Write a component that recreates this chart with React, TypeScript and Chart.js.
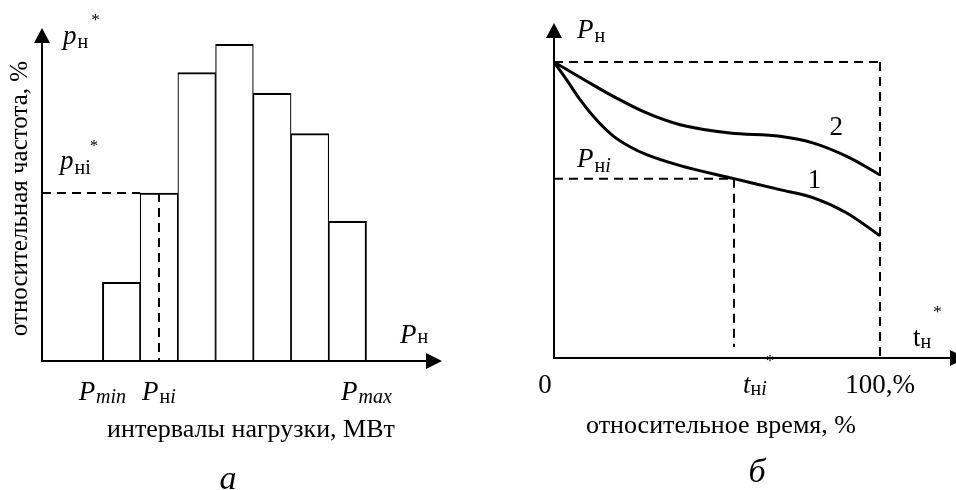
import React, { useEffect, useRef } from "react";
import { Chart, registerables } from "chart.js";
Chart.register(...registerables);

const SERIF = "'Liberation Serif', 'Times New Roman', serif";

// ---------- Panel a: histogram of load intervals ----------
const intervalCenters = [2, 3, 4, 5, 6, 7, 8];
const relFrequency = [5.3, 11.3, 19.4, 21.3, 18.0, 15.3, 9.4];
const pMinEdge = 1.5;
const pMaxEdge = 8.5;
const pNiX = 3;
const pNiFreq = 11.3;
const pNiBarLeft = 2.5;
const aXMin = -0.1;
const aXMax = 10.5;
const aYMax = 22.4;

// ---------- Panel b: load duration curves ----------
const timeCurve1 = [0, 4, 8, 13, 18.2, 23.3, 28.4, 38.7, 55.2, 69.3, 79.6, 89.8, 100];
const loadCurve1 = [100, 93.8, 87.3, 80.5, 75.0, 71.4, 68.7, 65.0, 60.6, 56.9, 54.1, 49.0, 41.3];
const timeCurve2 = [0, 9, 18.2, 28.4, 38.7, 54, 69.3, 79.6, 89.8, 100];
const loadCurve2 = [100, 94.2, 88.4, 82.8, 78.8, 76.0, 74.9, 72.6, 68.1, 61.9];
const pMaxLoad = 100;
const fullTime = 100;
const pNiLoad = 60.6;
const tNiTime = 55.2;
const tNiDashEnd = 3.7;
const bXMax = 123.3;
const bYMax = 113.2;

const F_MAIN_I = `italic 27px ${SERIF}`;
const F_MAIN = `27px ${SERIF}`;
const F_SUB = `20px ${SERIF}`;
const F_SUB_I = `italic 20px ${SERIF}`;
const F_STAR = `17px ${SERIF}`;
const F_TEXT = `26px ${SERIF}`;
const F_ROT = `25px ${SERIF}`;
const F_PANEL = `italic 34px ${SERIF}`;

type Part = { t: string; font: string; dy?: number; dx?: number };

function partsWidth(ctx: CanvasRenderingContext2D, parts: Part[]) {
  let w = 0;
  for (const p of parts) {
    ctx.font = p.font;
    w += ctx.measureText(p.t).width + (p.dx || 0);
  }
  return w;
}

function drawParts(ctx: CanvasRenderingContext2D, x: number, y: number, parts: Part[], align: "left" | "center" = "left") {
  let cx = align === "center" ? x - partsWidth(ctx, parts) / 2 : x;
  ctx.textAlign = "left";
  ctx.textBaseline = "alphabetic";
  for (const p of parts) {
    ctx.font = p.font;
    cx += p.dx || 0;
    ctx.fillText(p.t, cx, y + (p.dy || 0));
    cx += ctx.measureText(p.t).width;
  }
}

function arrowUp(ctx: CanvasRenderingContext2D, x: number, tip: number) {
  ctx.beginPath();
  ctx.moveTo(x, tip);
  ctx.lineTo(x - 8, tip + 15);
  ctx.lineTo(x + 8, tip + 15);
  ctx.closePath();
  ctx.fill();
}
function arrowRight(ctx: CanvasRenderingContext2D, tip: number, y: number) {
  ctx.beginPath();
  ctx.moveTo(tip, y);
  ctx.lineTo(tip - 16, y - 8);
  ctx.lineTo(tip - 16, y + 8);
  ctx.closePath();
  ctx.fill();
}

const panelAPlugin = {
  id: "panelA",
  afterDraw(chart: any) {
    const { ctx, chartArea: ca, scales } = chart;
    const xs = scales.x;
    const ys = scales.y;
    ctx.save();
    ctx.strokeStyle = "#000";
    ctx.fillStyle = "#000";
    ctx.lineWidth = 2;
    const ox = ca.left;
    const oy = ys.getPixelForValue(0);
    ctx.beginPath();
    ctx.moveTo(ox, oy + 1);
    ctx.lineTo(ox, ca.top + 12);
    ctx.moveTo(ox - 1, oy);
    ctx.lineTo(ca.right - 12, oy);
    ctx.stroke();
    arrowUp(ctx, ox, ca.top);
    arrowRight(ctx, ca.right, oy);

    drawParts(ctx, ox + 21, ca.top + 16, [
      { t: "p", font: F_MAIN_I },
      { t: "н", font: F_SUB, dy: 4, dx: 1 },
      { t: "*", font: F_STAR, dy: -19, dx: 3 },
    ]);
    const pny = ys.getPixelForValue(pNiFreq);
    drawParts(ctx, ox + 18, pny - 24, [
      { t: "p", font: F_MAIN_I },
      { t: "нi", font: F_SUB, dy: 5, dx: 1 },
      { t: "*", font: F_STAR, dy: -18, dx: -1 },
    ]);
    drawParts(ctx, ca.right - 42, oy - 18, [
      { t: "P", font: F_MAIN_I },
      { t: "н", font: F_SUB, dy: 0, dx: 1 },
    ]);
    const tickY = oy + 39;
    drawParts(ctx, xs.getPixelForValue(pMinEdge), tickY, [
      { t: "P", font: F_MAIN_I },
      { t: "min", font: F_SUB_I, dy: 3, dx: 1 },
    ], "center");
    drawParts(ctx, xs.getPixelForValue(pNiX), tickY, [
      { t: "P", font: F_MAIN_I },
      { t: "н", font: F_SUB, dy: 3, dx: 1 },
      { t: "i", font: F_SUB_I, dy: 3 },
    ], "center");
    drawParts(ctx, xs.getPixelForValue(pMaxEdge), tickY, [
      { t: "P", font: F_MAIN_I },
      { t: "max", font: F_SUB_I, dy: 3, dx: 1 },
    ], "center");

    ctx.font = F_TEXT;
    ctx.textAlign = "center";
    ctx.fillText("интервалы нагрузки, МВт", 251, oy + 76);
    ctx.font = F_PANEL;
    ctx.fillText("а", 228, oy + 128);

    ctx.translate(27, (ca.top + oy) / 2 + 4);
    ctx.rotate(-Math.PI / 2);
    ctx.font = F_ROT;
    ctx.textAlign = "center";
    ctx.fillText("относительная частота, %", 0, 0);
    ctx.restore();
  },
};

const panelBPlugin = {
  id: "panelB",
  afterDraw(chart: any) {
    const { ctx, chartArea: ca, scales } = chart;
    const xs = scales.x;
    const ys = scales.y;
    ctx.save();
    ctx.strokeStyle = "#000";
    ctx.fillStyle = "#000";
    ctx.lineWidth = 2;
    const ox = xs.getPixelForValue(0);
    const oy = ys.getPixelForValue(0);
    ctx.beginPath();
    ctx.moveTo(ox, oy + 1);
    ctx.lineTo(ox, ca.top + 12);
    ctx.moveTo(ox - 1, oy);
    ctx.lineTo(ca.right, oy);
    ctx.stroke();
    arrowUp(ctx, ox, ca.top);
    arrowRight(ctx, ca.right + 10, oy);

    drawParts(ctx, ox + 23, ca.top + 15, [
      { t: "P", font: F_MAIN_I },
      { t: "н", font: F_SUB, dy: 4, dx: 1 },
    ]);
    drawParts(ctx, ox + 23, ys.getPixelForValue(pNiLoad) - 12, [
      { t: "P", font: F_MAIN_I },
      { t: "н", font: F_SUB, dy: 5, dx: 1 },
      { t: "i", font: F_SUB_I, dy: 5 },
    ]);
    ctx.font = F_MAIN;
    ctx.textAlign = "left";
    ctx.fillText("2", xs.getPixelForValue(84.5), ys.getPixelForValue(75.5));
    ctx.fillText("1", xs.getPixelForValue(77.8), ys.getPixelForValue(57.5));

    drawParts(ctx, ca.right - 43, oy - 12, [
      { t: "t", font: F_MAIN },
      { t: "н", font: F_SUB, dy: 2, dx: 0 },
      { t: "*", font: F_STAR, dy: -29, dx: 2 },
    ]);
    const tickY = oy + 35;
    ctx.font = F_MAIN;
    ctx.textAlign = "center";
    ctx.fillText("0", ox - 9, tickY);
    ctx.fillText("100,%", xs.getPixelForValue(fullTime), tickY);
    drawParts(ctx, xs.getPixelForValue(tNiTime) + 9, tickY, [
      { t: "t", font: F_MAIN_I },
      { t: "н", font: F_SUB, dy: 2, dx: 0 },
      { t: "i", font: F_SUB_I, dy: 2 },
      { t: "*", font: F_STAR, dy: -27, dx: -1 },
    ], "left");

    ctx.font = F_TEXT;
    ctx.textAlign = "center";
    ctx.fillText("относительное время, %", 243, oy + 75);
    ctx.font = F_PANEL;
    ctx.fillText("б", 279, oy + 124);
    ctx.restore();
  },
};

const dash = [9, 6];

function PanelA() {
  const ref = useRef<HTMLCanvasElement>(null);
  useEffect(() => {
    const chart = new Chart(ref.current as HTMLCanvasElement, {
      type: "bar",
      data: {
        datasets: [
          {
            type: "line",
            data: [
              { x: aXMin, y: pNiFreq },
              { x: pNiBarLeft, y: pNiFreq },
            ],
            borderColor: "#000",
            borderWidth: 2,
            borderDash: dash,
            pointRadius: 0,
            order: 0,
          } as any,
          {
            type: "line",
            data: [
              { x: pNiX, y: pNiFreq },
              { x: pNiX, y: 0 },
            ],
            borderColor: "#000",
            borderWidth: 2,
            borderDash: dash,
            pointRadius: 0,
            order: 0,
          } as any,
          {
            type: "bar",
            data: intervalCenters.map((c, i) => ({ x: c, y: relFrequency[i] })),
            backgroundColor: "#fff",
            borderColor: "#000",
            borderWidth: (c: any) => ({
              top: 2,
              bottom: 0,
              left: c.dataIndex === 0 ? 2 : 1.2,
              right: c.dataIndex === intervalCenters.length - 1 ? 2 : 1.2,
            }),
            borderSkipped: false,
            barPercentage: 1,
            categoryPercentage: 1,
            order: 1,
          } as any,
        ],
      },
      options: {
        animation: false,
        responsive: false,
        layout: { padding: { left: 42, top: 28, right: 36, bottom: 129 } },
        plugins: { legend: { display: false }, tooltip: { enabled: false } },
        scales: {
          x: { type: "linear", min: aXMin, max: aXMax, offset: false, display: false },
          y: { type: "linear", min: 0, max: aYMax, display: false },
        },
      },
      plugins: [panelAPlugin],
    });
    return () => chart.destroy();
  }, []);
  return <canvas ref={ref} width={478} height={490} style={{ position: "absolute", left: 0, top: 0 }} />;
}

function PanelB() {
  const ref = useRef<HTMLCanvasElement>(null);
  useEffect(() => {
    const dashed = (pts: { x: number; y: number }[]) => ({
      data: pts,
      borderColor: "#000",
      borderWidth: 2,
      borderDash: dash,
      pointRadius: 0,
      tension: 0,
    });
    const chart = new Chart(ref.current as HTMLCanvasElement, {
      type: "line",
      data: {
        datasets: [
          dashed([{ x: 0, y: pMaxLoad }, { x: fullTime, y: pMaxLoad }]),
          dashed([{ x: fullTime, y: pMaxLoad }, { x: fullTime, y: 0 }]),
          dashed([{ x: 0, y: pNiLoad }, { x: tNiTime, y: pNiLoad }]),
          dashed([{ x: tNiTime, y: pNiLoad }, { x: tNiTime, y: tNiDashEnd }]),
          {
            data: timeCurve1.map((t, i) => ({ x: t, y: loadCurve1[i] })),
            borderColor: "#000",
            borderWidth: 3,
            pointRadius: 0,
            cubicInterpolationMode: "monotone",
          },
          {
            data: timeCurve2.map((t, i) => ({ x: t, y: loadCurve2[i] })),
            borderColor: "#000",
            borderWidth: 3,
            pointRadius: 0,
            cubicInterpolationMode: "monotone",
          },
        ] as any,
      },
      options: {
        animation: false,
        responsive: false,
        layout: { padding: { left: 76, top: 23, right: 0, bottom: 132 } },
        plugins: { legend: { display: false }, tooltip: { enabled: false } },
        scales: {
          x: { type: "linear", min: 0, max: bXMax, display: false },
          y: { type: "linear", min: 0, max: bYMax, display: false },
        },
      },
      plugins: [panelBPlugin],
    });
    return () => chart.destroy();
  }, []);
  return <canvas ref={ref} width={478} height={490} style={{ position: "absolute", left: 478, top: 0 }} />;
}

export default function App() {
  return (
    <div style={{ position: "fixed", left: 0, top: 0, width: 956, height: 490, background: "#fff", overflow: "hidden" }}>
      <PanelA />
      <PanelB />
    </div>
  );
}
